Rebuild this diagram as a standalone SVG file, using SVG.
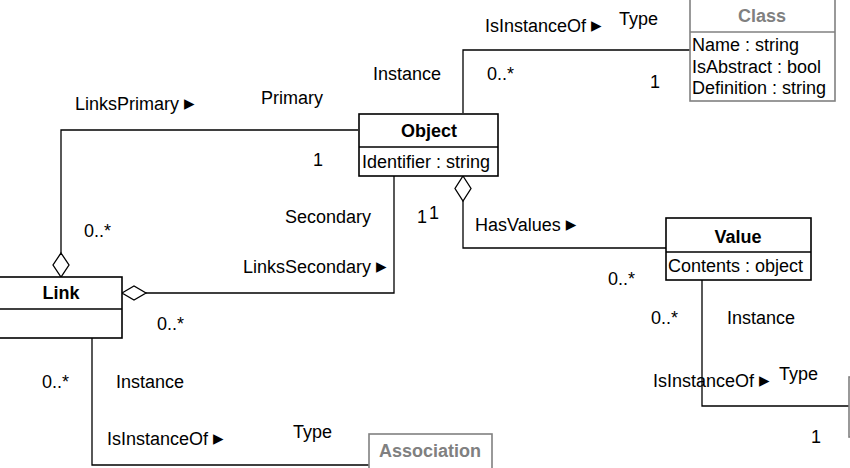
<svg xmlns="http://www.w3.org/2000/svg" width="850" height="468" viewBox="0 0 850 468">
<style>
text{font-family:"Liberation Sans",Arial,sans-serif;font-size:18px;fill:#000}
.t{font-weight:bold;text-anchor:middle}
.g{fill:#808080}
.box{fill:#fff;stroke:#000;stroke-width:1.6}
.gbox{fill:#fff;stroke:#808080;stroke-width:1.6}
.ln{fill:none;stroke:#000;stroke-width:1.3}
.gln{fill:none;stroke:#808080;stroke-width:1.3}
.dia{fill:#fff;stroke:#000;stroke-width:1.3}
.tri{font-family:"DejaVu Sans",sans-serif;font-size:21px}
</style>
<g id="connectors">
<path class="ln" d="M463,113 V50 H690"/>
<path class="ln" d="M358,130 H61 V253"/>
<polygon class="dia" points="61,253 69,265 61,277 53,265"/>
<path class="ln" d="M394,176 V293 H146"/>
<polygon class="dia" points="122,293 134,286 146,293 134,300"/>
<polygon class="dia" points="463,176 471,188.5 463,201 455,188.5"/>
<path class="ln" d="M463,201 V248 H666"/>
<path class="ln" d="M702,280 V406 H850"/>
<path class="ln" d="M92,338 V465 H369"/>
</g>
<g id="class">
<rect class="gbox" x="690" y="-2" width="145" height="103"/>
<line class="gln" x1="690" y1="32" x2="835" y2="32"/>
<text class="t g" x="762" y="22">Class</text>
<text x="692" y="51">Name : string</text>
<text x="692" y="73">IsAbstract : bool</text>
<text x="692" y="94">Definition : string</text>
</g>
<g id="object">
<rect class="box" x="359" y="114" width="139" height="62"/>
<line class="ln" x1="359" y1="147" x2="498" y2="147"/>
<text class="t" x="429" y="137">Object</text>
<text x="362" y="168">Identifier : string</text>
</g>
<g id="link">
<rect class="box" x="-2" y="277" width="124" height="61"/>
<line class="ln" x1="-2" y1="309" x2="122" y2="309"/>
<text class="t" x="61" y="299">Link</text>
</g>
<g id="value">
<rect class="box" x="666" y="218" width="145" height="62"/>
<line class="ln" x1="666" y1="252" x2="811" y2="252"/>
<text class="t" x="738" y="243">Value</text>
<text x="668" y="272">Contents : object</text>
</g>
<g id="association">
<rect class="gbox" x="369" y="434" width="123" height="36"/>
<text class="t g" x="430" y="457">Association</text>
</g>
<g id="offscreen">
<rect class="gbox" x="849" y="377" width="60" height="60"/>
</g>
<g id="labels">
<text x="485" y="32">IsInstanceOf <tspan class="tri">▸</tspan></text>
<text x="619" y="25">Type</text>
<text x="373" y="80">Instance</text>
<text x="487" y="80">0..*</text>
<text x="650" y="88">1</text>
<text x="75" y="110">LinksPrimary <tspan class="tri">▸</tspan></text>
<text x="261" y="104">Primary</text>
<text x="313" y="166">1</text>
<text x="285" y="223">Secondary</text>
<text x="417" y="223">1</text>
<text x="429" y="219">1</text>
<text x="84" y="237">0..*</text>
<text x="243" y="273">LinksSecondary <tspan class="tri">▸</tspan></text>
<text x="475" y="231">HasValues <tspan class="tri">▸</tspan></text>
<text x="608" y="285">0..*</text>
<text x="157" y="330">0..*</text>
<text x="651" y="324">0..*</text>
<text x="727" y="324">Instance</text>
<text x="42" y="388">0..*</text>
<text x="116" y="388">Instance</text>
<text x="653" y="387">IsInstanceOf <tspan class="tri">▸</tspan></text>
<text x="779" y="380">Type</text>
<text x="811" y="443">1</text>
<text x="107" y="445">IsInstanceOf <tspan class="tri">▸</tspan></text>
<text x="293" y="438">Type</text>
</g>
</svg>
